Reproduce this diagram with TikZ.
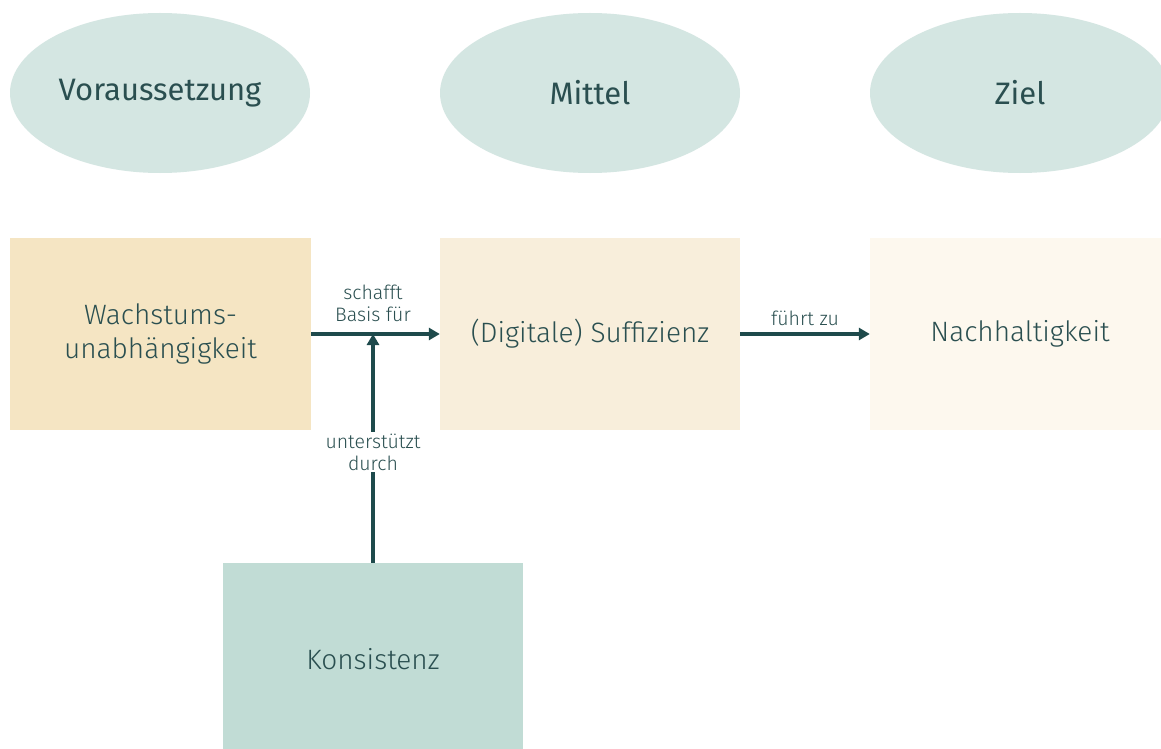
\documentclass[tikz,border=0pt]{standalone}
\usepackage{fontspec}
\setmainfont{Fira Sans}
\newfontfamily\lightf{Fira Sans Light}
\usetikzlibrary{shapes.geometric,arrows.meta}
\definecolor{ellc}{HTML}{D4E6E2}
\definecolor{wachc}{HTML}{F5E5C3}
\definecolor{suffc}{HTML}{F8EEDB}
\definecolor{nachc}{HTML}{FDF8EE}
\definecolor{konc}{HTML}{C1DCD5}
\definecolor{darkc}{HTML}{1E4A4C}
\definecolor{txtc}{HTML}{2A4F50}
\tikzset{
  head/.style={ellipse, fill=ellc, minimum width=300pt, minimum height=160pt, inner sep=0pt,
    text=txtc, font=\fontsize{31}{35}\selectfont},
  box/.style={rectangle, minimum width=300pt, minimum height=192pt, inner sep=0pt,
    text=txtc, align=center, font=\lightf\fontsize{28}{34}\selectfont},
  arr/.style={draw=darkc, line width=3.5pt, -{Triangle[length=11pt,width=12pt]}},
  lbl/.style={text=txtc, align=center, font=\lightf\fontsize{19.5}{22}\selectfont, inner sep=2pt}
}
\begin{document}
\begin{tikzpicture}[x=1pt,y=-1pt]
\useasboundingbox (0,0) rectangle (1161,749);
\fill[white] (0,0) rectangle (1161,749);
\node[head] (vor) at (160,93) {Voraussetzung};
\node[head] (mit) at (590,93) {Mittel};
\node[head] (zie) at (1020,93) {Ziel};
\node[box, fill=wachc, minimum width=301pt] (wach) at (160.5,334) {Wachstums-\\unabhängigkeit};
\node[box, fill=suffc] (suff) at (590,334) {(Digitale) Suffizienz};
\node[box, fill=nachc] (nach) at (1020,334) {Nachhaltigkeit};
\node[box, fill=konc] (kon) at (373,659) {Konsistenz};
\coordinate (junc) at (kon.north |- wach.east);
\draw[arr] (wach.east) -- (suff.west);
\draw[arr] (suff.east) -- (nach.west);
\draw[arr] (kon.north) -- (junc);
\node[lbl, fill=white] (lu) at (373,452) {unterstützt\\durch};
\node[lbl] (ls) at (373,303) {schafft\\Basis für};
\node[lbl] (lf) at (805,318) {führt zu};
\end{tikzpicture}
\end{document}
